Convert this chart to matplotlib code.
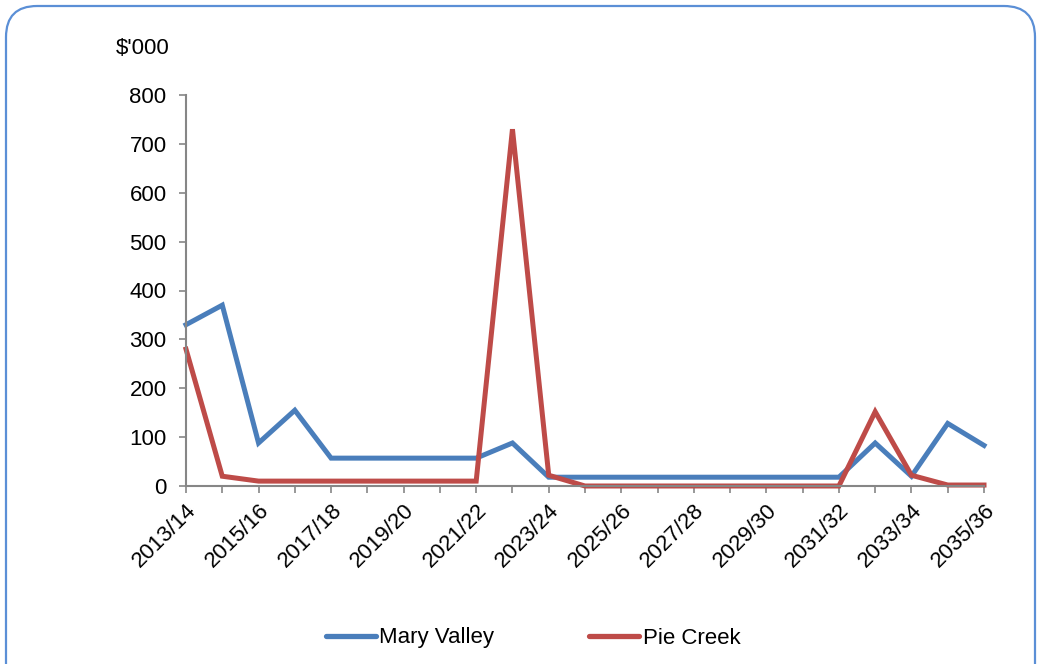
import numpy as np
import matplotlib.pyplot as plt
from matplotlib.patches import FancyBboxPatch
from matplotlib.lines import Line2D

plt.rcParams['font.family'] = ['Liberation Sans', 'DejaVu Sans']

years = [f"{y}/{(y + 1) % 100:02d}" for y in range(2013, 2036)]
mary_valley = [330, 370, 88, 155, 57, 57, 57, 57, 57, 88, 18, 18, 18, 18, 18,
               18, 18, 18, 18, 88, 20, 128, 83]
pie_creek = [280, 20, 10, 10, 10, 10, 10, 10, 10, 730, 22, 0, 0, 0, 0,
             0, 0, 0, 0, 152, 22, 2, 2]

blue = '#4a7ebb'
red = '#be4b48'
fs = 16

fig = plt.figure(figsize=(10.38, 6.64), dpi=100)
ax = fig.add_axes([186 / 1038, 1 - 486 / 664, (984 - 186) / 1038, (486 - 95) / 664])

x = np.arange(len(years))
ax.plot(x, mary_valley, color=blue, lw=3.6, solid_joinstyle='miter', clip_on=False)
ax.plot(x, pie_creek, color=red, lw=3.6, solid_joinstyle='miter', clip_on=False)

ax.set_xlim(0, len(years) - 1)
ax.set_ylim(0, 800)
ax.set_yticks(range(0, 801, 100))
ax.set_xticks(x)
ax.set_xticklabels([lab if i % 2 == 0 else '' for i, lab in enumerate(years)],
                   rotation=45, ha='right', rotation_mode='anchor')
ax.tick_params(axis='both', direction='out', length=5, color='#868686',
               labelsize=fs, width=1.2)
ax.tick_params(axis='y', pad=9)
ax.tick_params(axis='x', pad=5)
for s in ['top', 'right']:
    ax.spines[s].set_visible(False)
for s in ['left', 'bottom']:
    ax.spines[s].set_color('#868686')
    ax.spines[s].set_linewidth(1.5)

fig.text(143 / 1038, 1 - 48 / 664, "$'000", fontsize=fs, ha='center', va='center')

# legend at bottom
handles = [Line2D([], [], color=blue, lw=3.8, solid_capstyle='round'),
           Line2D([], [], color=red, lw=3.8, solid_capstyle='round')]
fig.legend(handles, ['Mary Valley', 'Pie Creek'], loc='center',
           bbox_to_anchor=(533 / 1038, 1 - 638 / 664), ncol=2, frameon=False,
           fontsize=fs, handlelength=2.25, handletextpad=0.15, columnspacing=4.3)

border = FancyBboxPatch((6 / 1038, -0.05), 1029 / 1038, 1.05 - 6 / 664,
                        boxstyle='round,pad=0,rounding_size=0.03',
                        transform=fig.transFigure, fill=False,
                        edgecolor='#5b8fd6', lw=1.6, mutation_aspect=1038 / 664)
fig.patches.append(border)

fig.savefig('out.png', dpi=100)
